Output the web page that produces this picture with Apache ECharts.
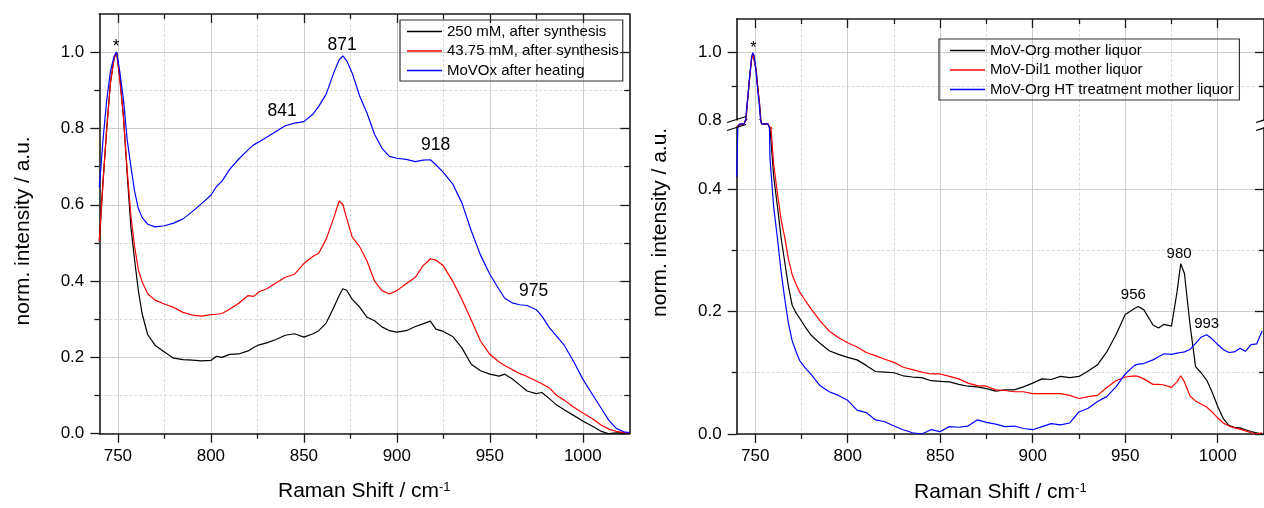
<!DOCTYPE html>
<html><head><meta charset="utf-8">
<script src="https://cdn.jsdelivr.net/npm/echarts@6/dist/echarts.min.js"></script>
<style>html,body{margin:0;padding:0;background:#fff}#c{width:1264px;height:508px}</style>
</head><body><div id="c"></div>
<script>
const FONT = '"Liberation Sans", Arial, sans-serif';

// ---------- left chart data ----------
const L_NAMES = ['250 mM, after synthesis', '43.75 mM, after synthesis', 'MoVOx after heating'];
const L_X = [740, 742, 744, 746, 748, 749.3, 751, 753, 755, 757,
  759, 761, 763, 766, 770, 775, 780, 785, 790, 795,
  800, 803, 806, 810, 815, 820, 823, 826, 830, 835,
  840, 845, 850, 855, 858, 862, 866, 869, 871, 873,
  876, 880, 884, 888, 892, 896, 900, 905, 910, 914,
  918, 921, 925, 930, 935, 940, 945, 950, 955, 958,
  962, 966, 970, 975, 978, 982, 986, 990, 995, 1000,
  1005, 1010, 1014, 1018, 1022, 1025];
const L_BLACK = [0.505, 0.66, 0.8, 0.92, 0.985, 1.0, 0.935, 0.83, 0.68, 0.54,
  0.455, 0.375, 0.315, 0.26, 0.232, 0.214, 0.198, 0.194, 0.193, 0.191,
  0.192, 0.203, 0.2, 0.208, 0.209, 0.217, 0.226, 0.233, 0.238, 0.247,
  0.258, 0.262, 0.253, 0.262, 0.27, 0.29, 0.33, 0.362, 0.38, 0.376,
  0.352, 0.332, 0.305, 0.296, 0.28, 0.27, 0.266, 0.27, 0.281, 0.288,
  0.295, 0.274, 0.268, 0.255, 0.225, 0.182, 0.165, 0.156, 0.151, 0.156,
  0.144, 0.128, 0.112, 0.105, 0.108, 0.092, 0.075, 0.063, 0.048, 0.033,
  0.02, 0.006, 0.0, 0.002, 0.002, 0.0];
const L_RED = [0.505, 0.66, 0.8, 0.92, 0.985, 1.0, 0.93, 0.83, 0.69, 0.57,
  0.49, 0.43, 0.398, 0.367, 0.35, 0.34, 0.331, 0.318, 0.311, 0.308,
  0.312, 0.313, 0.315, 0.326, 0.342, 0.362, 0.36, 0.372, 0.38, 0.395,
  0.41, 0.418, 0.446, 0.465, 0.473, 0.51, 0.565, 0.61, 0.6, 0.565,
  0.515, 0.49, 0.452, 0.4, 0.375, 0.366, 0.375, 0.393, 0.41, 0.44,
  0.458, 0.455, 0.44, 0.4, 0.352, 0.298, 0.243, 0.208, 0.188, 0.179,
  0.168, 0.158, 0.15, 0.138, 0.131, 0.12, 0.1, 0.088, 0.07, 0.054,
  0.04, 0.022, 0.012, 0.006, 0.003, 0.002];
const L_BLUE = [0.645, 0.77, 0.875, 0.95, 0.99, 1.0, 0.95, 0.875, 0.77, 0.7,
  0.635, 0.59, 0.567, 0.549, 0.542, 0.545, 0.552, 0.563, 0.582, 0.603,
  0.625, 0.648, 0.662, 0.692, 0.72, 0.744, 0.757, 0.765, 0.777, 0.792,
  0.807, 0.814, 0.818, 0.838, 0.858, 0.89, 0.945, 0.98, 0.99, 0.978,
  0.945, 0.885, 0.84, 0.785, 0.748, 0.727, 0.722, 0.719, 0.713, 0.717,
  0.718, 0.705, 0.685, 0.655, 0.605, 0.532, 0.468, 0.418, 0.378, 0.355,
  0.343, 0.338, 0.336, 0.325, 0.308, 0.278, 0.255, 0.232, 0.19, 0.143,
  0.104, 0.066, 0.035, 0.014, 0.005, 0.003];
const L_NOTES = [[749, 1.014, '*'], [870.6, 1.019, '871'], [838.3, 0.846, '841'], [920.8, 0.755, '918'], [973.5, 0.374, '975']];

// ---------- right chart data ----------
const R_NAMES = ['MoV-Org mother liquor', 'MoV-Dil1 mother liquor', 'MoV-Org HT treatment mother liquor'];
const R_X = [740, 741, 741.5, 744, 744.8, 746, 747, 748, 748.7, 749.5,
  750.5, 751.5, 752.3, 752.9, 753.5, 756.8, 758, 760, 762, 764,
  766, 768, 770, 772, 774, 777, 780, 785, 790, 795,
  800, 805, 810, 815, 820, 825, 830, 835, 840, 845,
  850, 855, 860, 865, 870, 875, 880, 885, 890, 895,
  900, 905, 910, 915, 920, 925, 930, 935, 940, 945,
  950, 955, 957, 960, 965, 968, 971, 975, 978, 980,
  982, 985, 988, 991, 994, 997, 1000, 1003, 1006, 1009,
  1012, 1015, 1018, 1021, 1024];
const R_BLACK = [0.52, 0.6, 0.65, 0.65, 0.79, 0.865, 0.925, 0.98, 0.998, 0.995,
  0.95, 0.89, 0.85, 0.81, 0.65, 0.65, 0.5, 0.42, 0.372, 0.32,
  0.28, 0.24, 0.21, 0.198, 0.189, 0.175, 0.162, 0.148, 0.136, 0.13,
  0.125, 0.121, 0.112, 0.102, 0.101, 0.1, 0.095, 0.093, 0.092, 0.087,
  0.086, 0.085, 0.081, 0.078, 0.077, 0.074, 0.07, 0.072, 0.072, 0.077,
  0.083, 0.09, 0.089, 0.094, 0.092, 0.094, 0.103, 0.113, 0.134, 0.162,
  0.195, 0.205, 0.208, 0.203, 0.178, 0.173, 0.179, 0.176, 0.232, 0.278,
  0.262, 0.179, 0.11, 0.1, 0.088, 0.068, 0.045, 0.025, 0.014, 0.011,
  0.01, 0.007, 0.004, 0.002, 0.0];
const R_RED = [0.52, 0.6, 0.65, 0.65, 0.79, 0.865, 0.925, 0.98, 0.998, 0.995,
  0.95, 0.89, 0.85, 0.81, 0.65, 0.65, 0.52, 0.44, 0.393, 0.35,
  0.32, 0.285, 0.26, 0.245, 0.232, 0.218, 0.205, 0.185, 0.168, 0.157,
  0.149, 0.142, 0.133, 0.128, 0.122, 0.117, 0.109, 0.105, 0.101, 0.098,
  0.098, 0.094, 0.09, 0.083, 0.079, 0.078, 0.072, 0.071, 0.069, 0.069,
  0.066, 0.066, 0.066, 0.066, 0.063, 0.058, 0.061, 0.063, 0.076, 0.087,
  0.093, 0.095, 0.094, 0.09, 0.081, 0.081, 0.08, 0.076, 0.085, 0.095,
  0.085, 0.062, 0.054, 0.049, 0.044, 0.036, 0.026, 0.018, 0.013, 0.01,
  0.008, 0.005, 0.002, 0.0, 0.002];
const R_BLUE = [0.42, 0.55, 0.65, 0.65, 0.8, 0.87, 0.93, 0.985, 1.0, 0.99,
  0.94, 0.88, 0.84, 0.8, 0.65, 0.65, 0.45, 0.37, 0.32, 0.265,
  0.22, 0.18, 0.152, 0.135, 0.12, 0.108, 0.098, 0.079, 0.069, 0.063,
  0.055, 0.039, 0.035, 0.023, 0.02, 0.013, 0.007, 0.002, 0.0, 0.007,
  0.004, 0.012, 0.011, 0.013, 0.023, 0.019, 0.016, 0.012, 0.013, 0.009,
  0.007, 0.012, 0.017, 0.015, 0.018, 0.036, 0.042, 0.053, 0.061, 0.077,
  0.098, 0.112, 0.114, 0.115, 0.121, 0.126, 0.131, 0.13, 0.132, 0.133,
  0.134, 0.138, 0.148, 0.158, 0.162, 0.155, 0.146, 0.138, 0.133, 0.134,
  0.14, 0.135, 0.146, 0.147, 0.168];
const R_NOTES_UP = [[749, 1.011, '*']];
const R_NOTES_LOW = [[954.4, 0.227, '956'], [979.1, 0.294, '980'], [994, 0.18, '993']];

// ---------- ticks ----------
const X_MAJOR = [750, 800, 850, 900, 950, 1000];
const X_MINOR = [775, 825, 875, 925, 975];
const L_Y_MAJOR = [0, 0.2, 0.4, 0.6, 0.8, 1.0];
const L_Y_MINOR = [0.1, 0.3, 0.5, 0.7, 0.9];
const R_UP_LABELS = [0.8, 1.0];
const R_UP_MAJOR = [1.0];
const R_UP_MINOR = [0.9];
const R_LOW_MAJOR = [0, 0.2, 0.4];
const R_LOW_MINOR = [0.1, 0.3];

const AX = '#1a1a1a';
const SOLID = {show: true, lineStyle: {color: '#cdcdcd', width: 1, type: 'solid'}};
const DASH = {show: true, lineStyle: {color: '#d9d9d9', width: 1, type: [3, 2]}};

function axis(grid, range, o) {
  const a = {
    type: 'value', gridIndex: grid, min: range[0], max: range[1], position: o.pos,
    axisLine: {show: !!o.line, onZero: false, lineStyle: {color: AX, width: 1.6}},
    axisTick: {show: !!o.len, inside: !!o.inside, length: o.len || 0, customValues: o.ticks || [], lineStyle: {color: AX, width: 1.3}},
    axisLabel: o.labels ? {show: true, customValues: o.labels, margin: o.margin, color: '#000', fontSize: 17, fontFamily: FONT, formatter: o.fmt} : {show: false},
    splitLine: o.split || {show: false},
    z: 1
  };
  if (o.name) {
    a.name = o.name; a.nameLocation = 'middle'; a.nameGap = o.nameGap; a.nameTextStyle = o.nameStyle;
  }
  if (o.hide) a.show = false;
  return a;
}
const fx = v => String(v);
const fy = v => v.toFixed(1);
const XNAME = '{a|Raman Shift / cm}{b|-1}';
const XNAMESTYLE = {rich: {a: {fontSize: 21, fontFamily: FONT, color: '#000'}, b: {fontSize: 13, fontFamily: FONT, color: '#000', verticalAlign: 'top'}}};
const YNAME = 'norm. intensity / a.u.';
const XR = [740, 1025];

const xAxes = [
  axis(0, XR, {pos: 'bottom', line: true, ticks: X_MAJOR, len: 9, labels: X_MAJOR, margin: 14, fmt: fx, split: SOLID, name: XNAME, nameGap: 47, nameStyle: XNAMESTYLE}),
  axis(0, XR, {pos: 'bottom', ticks: X_MINOR, len: 5, split: DASH}),
  axis(0, XR, {pos: 'top', line: true, ticks: X_MAJOR, len: 9, inside: true}),
  axis(0, XR, {pos: 'top', ticks: X_MINOR, len: 5, inside: true}),
  axis(1, XR, {pos: 'top', line: true, ticks: X_MAJOR, len: 9, inside: true, split: SOLID}),
  axis(1, XR, {pos: 'top', ticks: X_MINOR, len: 5, inside: true, split: DASH}),
  axis(2, XR, {pos: 'bottom', ticks: X_MAJOR, split: SOLID}),
  axis(2, XR, {pos: 'bottom', ticks: X_MINOR, split: DASH}),
  axis(3, XR, {pos: 'bottom', line: true, ticks: X_MAJOR, len: 9, labels: X_MAJOR, margin: 14, fmt: fx, split: SOLID, name: XNAME, nameGap: 48, nameStyle: XNAMESTYLE}),
  axis(3, XR, {pos: 'bottom', ticks: X_MINOR, len: 5, split: DASH}),
  axis(4, XR, {pos: 'bottom', hide: true})
];
const yAxes = [
  axis(0, [0, 1.1], {pos: 'left', line: true, ticks: L_Y_MAJOR, len: 9, labels: L_Y_MAJOR, margin: 15, fmt: fy, split: SOLID,
    name: YNAME, nameGap: 66, nameStyle: {fontSize: 21, fontFamily: FONT, color: '#000', padding: [0, 14, 0, 0]}}),
  axis(0, [0, 1.1], {pos: 'left', ticks: L_Y_MINOR, len: 5, split: DASH}),
  axis(0, [0, 1.1], {pos: 'right', line: true, ticks: L_Y_MAJOR, len: 9, inside: true}),
  axis(0, [0, 1.1], {pos: 'right', ticks: L_Y_MINOR, len: 5, inside: true}),
  axis(1, [0.8, 1.1], {pos: 'left', line: true, ticks: R_UP_MAJOR, len: 9, labels: R_UP_LABELS, margin: 15, fmt: fy, split: SOLID}),
  axis(1, [0.8, 1.1], {pos: 'left', ticks: R_UP_MINOR, len: 5, split: DASH}),
  axis(1, [0.8, 1.1], {pos: 'right', line: true, ticks: R_UP_MAJOR, len: 9, inside: true}),
  axis(1, [0.8, 1.1], {pos: 'right', ticks: R_UP_MINOR, len: 5, inside: true}),
  axis(2, [0.5, 0.8], {pos: 'left'}),
  axis(3, [0, 0.5], {pos: 'left', line: true, ticks: R_LOW_MAJOR, len: 9, labels: R_LOW_MAJOR, margin: 15, fmt: fy, split: SOLID}),
  axis(3, [0, 0.5], {pos: 'left', ticks: R_LOW_MINOR, len: 5, split: DASH}),
  axis(3, [0, 0.5], {pos: 'right', line: true, ticks: R_LOW_MAJOR, len: 9, inside: true}),
  axis(3, [0, 0.5], {pos: 'right', ticks: R_LOW_MINOR, len: 5, inside: true}),
  axis(4, [0, 1], {pos: 'left', name: YNAME, nameGap: 66, nameStyle: {fontSize: 21, fontFamily: FONT, color: '#000', padding: [0, 0, 0, 12]}})
];

const COLORS = ['#000000', '#ff0000', '#0000ff'];
function line(name, xs, ys, color, xi, yi) {
  return {type: 'line', name, xAxisIndex: xi, yAxisIndex: yi, data: xs.map((x, i) => [x, ys[i]]),
    symbol: 'none', lineStyle: {color, width: 1.2}, itemStyle: {color}, clip: true, z: 3, silent: true};
}
function notes(arr, xi, yi, size) {
  const lab = {show: true, position: 'inside', color: '#000', opacity: 1, textBorderWidth: 0, fontSize: size, fontFamily: FONT};
  return {type: 'scatter', xAxisIndex: xi, yAxisIndex: yi, symbol: 'circle', symbolSize: 0.1, itemStyle: {color: '#ffffff', opacity: 1}, silent: true, z: 5,
    data: arr.map(p => ({value: [p[0], p[1]], label: Object.assign({}, lab, {formatter: p[2]})})),
    label: lab};
}

const series = [];
[L_BLACK, L_RED, L_BLUE].forEach((ys, i) => series.push(line(L_NAMES[i], L_X, ys, COLORS[i], 0, 0)));
[[4, 4], [6, 8], [8, 9]].forEach(([xi, yi]) => {
  [R_BLACK, R_RED, R_BLUE].forEach((ys, i) => series.push(line(R_NAMES[i], R_X, ys, COLORS[i], xi, yi)));
});
series.push(notes(L_NOTES, 0, 0, 17.5));
series.push(notes(R_NOTES_UP, 4, 4, 16));
series.push(notes(R_NOTES_LOW, 8, 9, 15));

const legendCommon = {orient: 'vertical', icon: 'rect', itemWidth: 35, itemHeight: 1.3, itemGap: 4.5, borderColor: '#333', borderWidth: 1.2,
  selectedMode: false, textStyle: {fontSize: 15, fontFamily: FONT, color: '#000', lineHeight: 14}};

const option = {
  animation: false,
  backgroundColor: '#fff',
  grid: [
    {left: 99.3, top: 14, width: 530, height: 419.7},
    {left: 736.7, top: 19, width: 529, height: 101},
    {left: 736.7, top: 120, width: 529, height: 7.7},
    {left: 736.7, top: 127.7, width: 529, height: 310},
    {left: 736.7, top: 19, width: 529, height: 418.7}
  ],
  xAxis: xAxes,
  yAxis: yAxes,
  legend: [
    Object.assign({data: L_NAMES, left: 400, top: 20, padding: [4, 4, 3, 7]}, legendCommon),
    Object.assign({data: R_NAMES, left: 939, top: 39, padding: [4, 6, 3, 11]}, legendCommon)
  ],
  graphic: [
    {type: 'line', shape: {x1: 727, y1: 122.5, x2: 746, y2: 116.5}, style: {stroke: '#000', lineWidth: 1.3}, z: 10},
    {type: 'line', shape: {x1: 727, y1: 130.5, x2: 746, y2: 124.5}, style: {stroke: '#000', lineWidth: 1.3}, z: 10},
    {type: 'line', shape: {x1: 1256, y1: 122.5, x2: 1275, y2: 116.5}, style: {stroke: '#000', lineWidth: 1.3}, z: 10},
    {type: 'line', shape: {x1: 1256, y1: 130.5, x2: 1275, y2: 124.5}, style: {stroke: '#000', lineWidth: 1.3}, z: 10}
  ],
  series
};
const chart = echarts.init(document.getElementById('c'), null, {renderer: 'canvas'});
chart.setOption(option);
</script></body></html>
